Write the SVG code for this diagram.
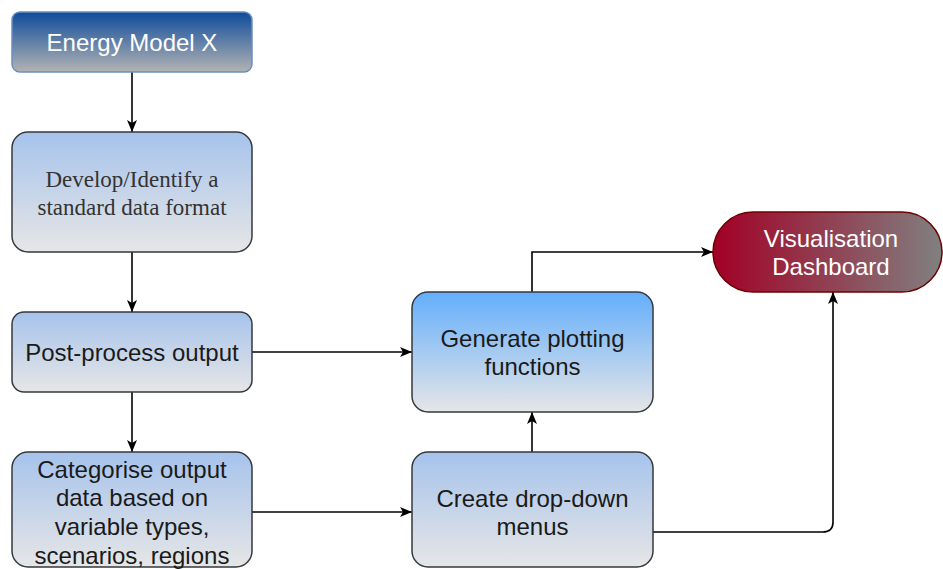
<svg xmlns="http://www.w3.org/2000/svg" width="943" height="569" viewBox="0 0 943 569">
  <defs>
    <linearGradient id="gTop" x1="0" y1="0" x2="0" y2="1">
      <stop offset="0" stop-color="#0f4c9b"/>
      <stop offset="1" stop-color="#b3b3b3"/>
    </linearGradient>
    <linearGradient id="gLight" x1="0" y1="0" x2="0" y2="1">
      <stop offset="0" stop-color="#a6c3ec"/>
      <stop offset="1" stop-color="#e6e6e6"/>
    </linearGradient>
    <linearGradient id="gBright" x1="0" y1="0" x2="0" y2="1">
      <stop offset="0" stop-color="#63aefc"/>
      <stop offset="1" stop-color="#e6e6e6"/>
    </linearGradient>
    <linearGradient id="gRed" x1="0" y1="0" x2="1" y2="0">
      <stop offset="0" stop-color="#a20025"/>
      <stop offset="1" stop-color="#808080"/>
    </linearGradient>
    <marker id="arr" viewBox="0 0 12 12" refX="12" refY="6" markerWidth="12" markerHeight="12" markerUnits="userSpaceOnUse" orient="auto">
      <path d="M0,1 L12,6 L0,11 L3,6 Z" fill="#000"/>
    </marker>
    <style>
      .box { stroke: #36393d; stroke-width: 1.5; }
      .t { font-family: "Liberation Sans", Arial, sans-serif; font-size: 24px; fill: #1a1a1a; text-anchor: middle; }
      .ts { font-family: "Liberation Serif", "Times New Roman", serif; font-size: 23px; fill: #333; text-anchor: middle; }
      .tw { font-family: "Liberation Sans", Arial, sans-serif; font-size: 24px; fill: #ffffff; text-anchor: middle; }
      .c { fill: none; stroke: #000; stroke-width: 1.6; marker-end: url(#arr); }
    </style>
  </defs>

  <g id="connectors">
    <path class="c" d="M132,72 L132,132"/>
    <path class="c" d="M132,252 L132,312"/>
    <path class="c" d="M132,392 L132,452"/>
    <path class="c" d="M252,352 L412,352"/>
    <path class="c" d="M252,512 L412,512"/>
    <path class="c" d="M532,452 L532,412"/>
    <path class="c" d="M532,292 L532,252 L713,252"/>
    <path class="c" d="M653,532 L823,532 Q833,532 833,522 L833,292"/>
  </g>

  <g id="energy-model">
    <rect x="12" y="12" width="240" height="60" rx="8" fill="url(#gTop)" stroke="#6c8ebf" stroke-width="1.5"/>
    <text class="tw" x="132" y="50.5">Energy Model X</text>
  </g>

  <g id="develop">
    <rect class="box" x="12" y="132" width="240" height="120" rx="16" fill="url(#gLight)"/>
    <text class="ts" x="132" y="186.5">Develop/Identify a</text>
    <text class="ts" x="132" y="215">standard data format</text>
  </g>

  <g id="post-process">
    <rect class="box" x="12" y="312" width="240" height="80" rx="12" fill="url(#gLight)"/>
    <text class="t" x="132" y="361">Post-process output</text>
  </g>

  <g id="categorise">
    <rect class="box" x="12" y="452" width="240" height="115" rx="16" fill="url(#gLight)"/>
    <text class="t" x="132" y="477.5">Categorise output</text>
    <text class="t" x="132" y="506">data based on</text>
    <text class="t" x="132" y="535">variable types,</text>
    <text class="t" x="132" y="563.5">scenarios, regions</text>
  </g>

  <g id="generate">
    <rect class="box" x="412" y="292" width="241" height="120" rx="16" fill="url(#gBright)"/>
    <text class="t" x="532.5" y="346.5">Generate plotting</text>
    <text class="t" x="532.5" y="375">functions</text>
  </g>

  <g id="dropdown">
    <rect class="box" x="412" y="452" width="241" height="115" rx="16" fill="url(#gLight)"/>
    <text class="t" x="532.5" y="506.5">Create drop-down</text>
    <text class="t" x="532.5" y="535">menus</text>
  </g>

  <g id="dashboard">
    <rect x="713" y="212" width="229" height="80" rx="40" fill="url(#gRed)" stroke="#6f0000" stroke-width="1.5"/>
    <text class="tw" x="831" y="246.5">Visualisation</text>
    <text class="tw" x="831" y="275">Dashboard</text>
  </g>
</svg>
